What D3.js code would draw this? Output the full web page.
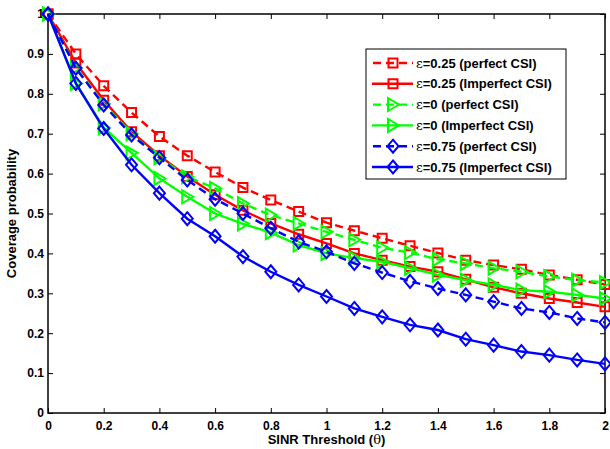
<!DOCTYPE html>
<html>
<head>
<meta charset="utf-8">
<script src="https://cdn.jsdelivr.net/npm/d3@7"></script>
<style>
  body { margin: 0; background: #fff; }
  svg { font-family: "Liberation Sans", Arial, sans-serif; }
  .tick text { font-weight: bold; font-size: 12px; }
</style>
</head>
<body>
<script>
// Data
const thetas = [0, 0.1, 0.2, 0.3, 0.4, 0.5, 0.6, 0.7, 0.8, 0.9, 1, 1.1, 1.2, 1.3, 1.4, 1.5, 1.6, 1.7, 1.8, 1.9, 2];
const eps025Perfect = [1, 0.90, 0.82, 0.753, 0.693, 0.645, 0.604, 0.565, 0.534, 0.505, 0.477, 0.457, 0.438, 0.419, 0.401, 0.383, 0.371, 0.36, 0.346, 0.334, 0.322];
const eps025Imperfect = [1, 0.877, 0.784, 0.705, 0.645, 0.593, 0.547, 0.508, 0.475, 0.448, 0.425, 0.40, 0.383, 0.367, 0.354, 0.335, 0.315, 0.30, 0.287, 0.277, 0.266];
const eps0Perfect = [1, 0.865, 0.775, 0.70, 0.64, 0.592, 0.563, 0.525, 0.496, 0.475, 0.454, 0.434, 0.414, 0.402, 0.385, 0.375, 0.363, 0.354, 0.342, 0.333, 0.327];
const eps0Imperfect = [1, 0.826, 0.715, 0.652, 0.588, 0.542, 0.50, 0.474, 0.452, 0.421, 0.40, 0.388, 0.379, 0.363, 0.346, 0.333, 0.321, 0.308, 0.304, 0.296, 0.287];
const eps075Perfect = [1, 0.864, 0.772, 0.697, 0.64, 0.584, 0.536, 0.50, 0.463, 0.429, 0.404, 0.375, 0.352, 0.33, 0.312, 0.296, 0.279, 0.262, 0.252, 0.237, 0.227];
const eps075Imperfect = [1, 0.826, 0.713, 0.622, 0.551, 0.487, 0.443, 0.392, 0.354, 0.321, 0.292, 0.262, 0.241, 0.221, 0.208, 0.185, 0.17, 0.154, 0.145, 0.133, 0.123];
const xTicks = [0, 0.2, 0.4, 0.6, 0.8, 1, 1.2, 1.4, 1.6, 1.8, 2];
const yTicks = [0, 0.1, 0.2, 0.3, 0.4, 0.5, 0.6, 0.7, 0.8, 0.9, 1];

const series = [
  { eps: "0.25", label: " (perfect CSI)", values: eps025Perfect, color: "#ff0000", dashed: true, marker: "square" },
  { eps: "0.25", label: " (Imperfect CSI)", values: eps025Imperfect, color: "#ff0000", dashed: false, marker: "square" },
  { eps: "0", label: " (perfect CSI)", values: eps0Perfect, color: "#00ff00", dashed: true, marker: "triangle" },
  { eps: "0", label: " (Imperfect CSI)", values: eps0Imperfect, color: "#00ff00", dashed: false, marker: "triangle" },
  { eps: "0.75", label: " (perfect CSI)", values: eps075Perfect, color: "#0000ff", dashed: true, marker: "diamond" },
  { eps: "0.75", label: " (Imperfect CSI)", values: eps075Imperfect, color: "#0000ff", dashed: false, marker: "diamond" }
];

// Layout
const width = 610, height = 449;
const plotLeft = 48, plotRight = 605, plotTop = 14, plotBottom = 413;

const svg = d3.select("body").append("svg")
  .attr("width", width)
  .attr("height", height);

const x = d3.scaleLinear().domain([0, 2]).range([plotLeft, plotRight]);
const y = d3.scaleLinear().domain([0, 1]).range([plotBottom, plotTop]);

// marker shapes
function markerPath(type) {
  if (type === "square") return "M-4.5,-4.5H4.5V4.5H-4.5Z";
  if (type === "triangle") return "M-5,-6.5L6,0L-5,6.5Z";
  return "M0,-6.5L5.5,0L0,6.5L-5.5,0Z";
}

// Axes (ticks inward, box)
const tickLen = 5;
svg.append("g")
  .attr("transform", `translate(0,${plotBottom})`)
  .call(d3.axisBottom(x).tickValues(xTicks).tickSize(-tickLen).tickPadding(8).tickFormat(d3.format("")))
  .call(g => g.select(".domain").remove());
svg.append("g")
  .attr("transform", `translate(0,${plotTop})`)
  .call(d3.axisTop(x).tickValues(xTicks).tickSize(-tickLen).tickFormat(""))
  .call(g => g.select(".domain").remove());
svg.append("g")
  .attr("transform", `translate(${plotLeft},0)`)
  .call(d3.axisLeft(y).tickValues(yTicks).tickSize(-tickLen).tickPadding(4).tickFormat(d3.format("")))
  .call(g => g.select(".domain").remove());
svg.append("g")
  .attr("transform", `translate(${plotRight},0)`)
  .call(d3.axisRight(y).tickValues(yTicks).tickSize(-tickLen).tickFormat(""))
  .call(g => g.select(".domain").remove());

svg.selectAll(".tick line").attr("stroke", "#000").attr("stroke-width", 1);
svg.selectAll(".tick text").attr("fill", "#000");

svg.append("rect")
  .attr("x", plotLeft).attr("y", plotTop)
  .attr("width", plotRight - plotLeft).attr("height", plotBottom - plotTop)
  .attr("fill", "none").attr("stroke", "#000").attr("stroke-width", 1.5);

// Lines and markers
const line = d3.line()
  .x((d, i) => x(thetas[i]))
  .y(d => y(d));

series.forEach(s => {
  const g = svg.append("g");
  g.append("path")
    .datum(s.values)
    .attr("d", line)
    .attr("fill", "none")
    .attr("stroke", s.color)
    .attr("stroke-width", 2.4)
    .attr("stroke-dasharray", s.dashed ? "8,5" : null);
  g.selectAll("path.mk")
    .data(s.values)
    .join("path")
    .attr("class", "mk")
    .attr("d", markerPath(s.marker))
    .attr("transform", (d, i) => `translate(${x(thetas[i])},${y(d)})`)
    .attr("fill", "none")
    .attr("stroke", s.color)
    .attr("stroke-width", 2);
});

// Legend
const legend = svg.append("g");
legend.append("rect")
  .attr("x", 366).attr("y", 49)
  .attr("width", 200).attr("height", 130)
  .attr("fill", "#fff").attr("stroke", "#000").attr("stroke-width", 1);

series.forEach((s, i) => {
  const ly = 63 + i * 20.8;
  legend.append("line")
    .attr("x1", 372).attr("x2", 413)
    .attr("y1", ly).attr("y2", ly)
    .attr("stroke", s.color)
    .attr("stroke-width", 2.4)
    .attr("stroke-dasharray", s.dashed ? "8,5" : null)
    .attr("stroke-dashoffset", s.dashed ? -1 : null);
  legend.append("path")
    .attr("d", markerPath(s.marker))
    .attr("transform", `translate(393,${ly})`)
    .attr("fill", "none")
    .attr("stroke", s.color)
    .attr("stroke-width", 2);
  const t = legend.append("text")
    .attr("x", 416).attr("y", ly + 4.5)
    .attr("font-size", 13)
    .attr("font-weight", "bold");
  t.append("tspan").attr("font-weight", "normal").attr("font-family", "DejaVu Serif, serif").text("ε");
  t.append("tspan").text("=" + s.eps + s.label);
});

// Axis titles
const xTitle = svg.append("text")
  .attr("x", (plotLeft + plotRight) / 2)
  .attr("y", 443.5)
  .attr("text-anchor", "middle")
  .attr("font-size", 13)
  .attr("font-weight", "bold");
xTitle.append("tspan").text("SINR Threshold (");
xTitle.append("tspan").attr("font-weight", "normal").attr("font-family", "DejaVu Serif, serif").text("θ");
xTitle.append("tspan").text(")");

svg.append("text")
  .attr("transform", `translate(15.5,${(plotTop + plotBottom) / 2}) rotate(-90)`)
  .attr("text-anchor", "middle")
  .attr("font-size", 13)
  .attr("font-weight", "bold")
  .text("Coverage probability");
</script>
</body>
</html>
